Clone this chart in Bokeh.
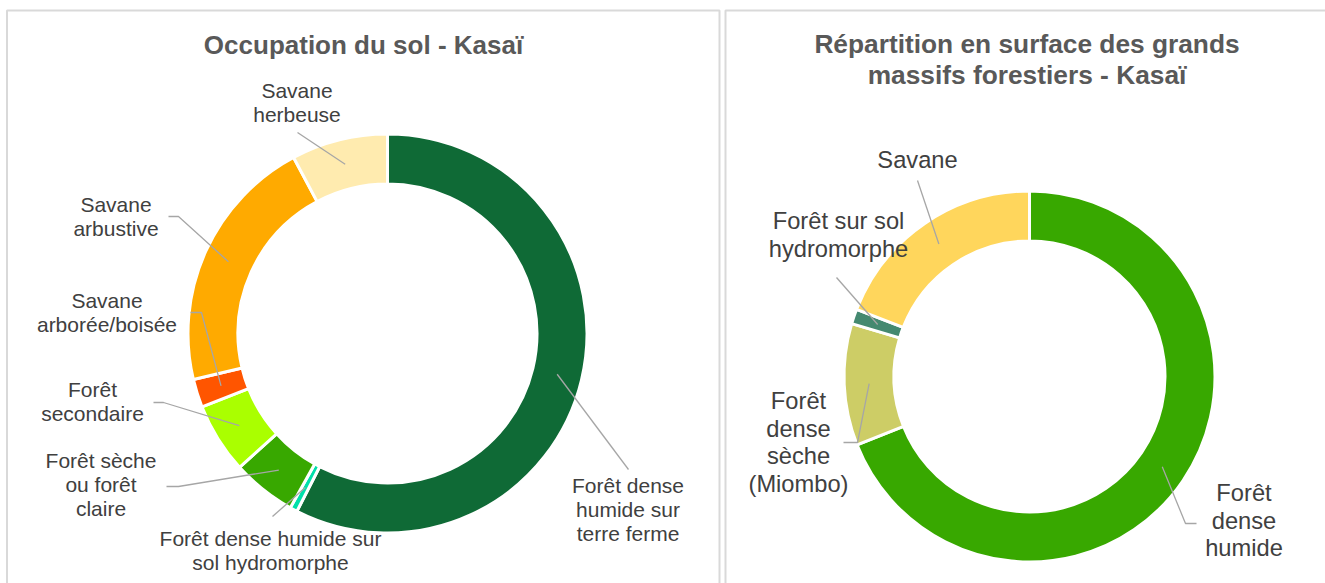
import numpy as np
from bokeh.plotting import figure
from bokeh.models import Range1d, ColumnDataSource
from bokeh.embed import file_html
from bokeh.resources import INLINE
from bokeh.core.properties import value

# ---------------- DATA ----------------
occ_title = "Occupation du sol - Kasaï"
occ_categories = [
    "Forêt dense humide sur terre ferme",
    "Forêt dense humide sur sol hydromorphe",
    "Forêt sèche ou forêt claire",
    "Forêt secondaire",
    "Savane arborée/boisée",
    "Savane arbustive",
    "Savane herbeuse",
]
occ_values = [57.5, 0.6, 5.2, 5.7, 2.3, 20.9, 7.8]
occ_colors = ["#0F6A36", "#00E0AA", "#38A800", "#AAFF00", "#FF5500", "#FFAA00", "#FFEBAF"]
occ_label_lines = [
    ["Forêt dense", "humide sur", "terre ferme"],
    ["Forêt dense humide sur", "sol hydromorphe"],
    ["Forêt sèche", "ou forêt", "claire"],
    ["Forêt", "secondaire"],
    ["Savane", "arborée/boisée"],
    ["Savane", "arbustive"],
    ["Savane", "herbeuse"],
]

mass_title_lines = ["Répartition en surface des grands", "massifs forestiers - Kasaï"]
mass_categories = ["Forêt dense humide", "Forêt dense sèche (Miombo)", "Forêt sur sol hydromorphe", "Savane"]
mass_values = [69.0, 10.6, 1.3, 19.1]
mass_colors = ["#38A800", "#CDCD66", "#448970", "#FFD65C"]
mass_label_lines = [
    ["Forêt", "dense", "humide"],
    ["Forêt", "dense", "sèche", "(Miombo)"],
    ["Forêt sur sol", "hydromorphe"],
    ["Savane"],
]

# ---------------- LAYOUT (screen pixels) ----------------
W, H = 1325, 583
BASE_SHIFT = 0.4  # empirical correction of the rendered baseline (em)


def Y(sy):
    # screen y -> data y (data y increases upward)
    return H - sy


def TY(sy, fs):
    # desired baseline in screen px -> data y for text glyph
    return Y(sy - BASE_SHIFT * fs)


occ_layout = dict(cx=387, cy=333, r_in=151, r_out=198, lh=24.4, fs=21,
                  labels=[(627.5, 493, [(628, 469)]),
                          (270, 546, [(272, 516)]),
                          (100.5, 468, [(166, 486), (178, 486)]),
                          (92, 397, [(153, 402), (163, 402)]),
                          (106.5, 308, [(190, 312), (201, 312)]),
                          (115.5, 212, [(168, 216), (178, 216)]),
                          (296.5, 98, [(297, 132)])])
mass_layout = dict(cx=1029, cy=376, r_in=137, r_out=184, lh=27.5, fs=23.7,
                   labels=[(1243.5, 502, [(1196, 523), (1185, 523)]),
                           (798, 410, [(843, 442), (857, 442)]),
                           (838, 230, [(836, 277)]),
                           (917, 169, [(917, 180)])])

FONT = "Liberation Sans"
LABEL_COLOR = "#404040"
TITLE_COLOR = "#595959"
LEADER_COLOR = "#A6A6A6"

p = figure(width=W, height=H, x_range=Range1d(0, W), y_range=Range1d(0, H),
           x_axis_type=None, y_axis_type=None, toolbar_location=None,
           output_backend="svg", min_border=0, outline_line_color=None)
p.grid.visible = False
p.background_fill_color = "white"
p.border_fill_color = "white"

# panel borders
p.quad(left=[6.5, 725], right=[719, 1345], top=[Y(10), Y(10)], bottom=[Y(620), Y(620)],
       fill_color=None, line_color="#D9D9D9", line_width=2)


def draw_donut(values, colors, label_lines, lay):
    vals = np.array(values, dtype=float)
    cum = np.concatenate([[0], np.cumsum(vals)]) / vals.sum() * 2 * np.pi  # clockwise from top
    n = len(vals)
    src = ColumnDataSource(dict(
        x=[lay["cx"]] * n, y=[Y(lay["cy"])] * n,
        start=list(np.pi / 2 - cum[1:]), end=list(np.pi / 2 - cum[:-1]),
        color=colors))
    lw = 3
    p.annular_wedge(x="x", y="y", inner_radius=lay["r_in"] - lw / 2, outer_radius=lay["r_out"] + lw / 2,
                    start_angle="start", end_angle="end", direction="anticlock",
                    fill_color="color", line_color="white", line_width=lw, source=src)
    mids = (cum[:-1] + cum[1:]) / 2
    rm = (lay["r_in"] + lay["r_out"]) / 2
    xs, ys = [], []
    tx, ty, tt = [], [], []
    fs = lay["fs"]
    for i, (lx, lb, pts) in enumerate(lay["labels"]):
        ex = lay["cx"] + rm * np.sin(mids[i])
        ey = lay["cy"] - rm * np.cos(mids[i])
        path = pts + [(ex, ey)]
        xs.append([q[0] for q in path])
        ys.append([Y(q[1]) for q in path])
        for j, line in enumerate(label_lines[i]):
            tx.append(lx)
            ty.append(TY(lb + j * lay["lh"], fs))
            tt.append(line)
    p.multi_line(xs=xs, ys=ys, line_color=LEADER_COLOR, line_width=1.3)
    p.text(x=tx, y=ty, text=tt, text_font=value(FONT), text_font_size=f"{fs}px",
           text_color=LABEL_COLOR, text_align="center", text_baseline="alphabetic")


draw_donut(occ_values, occ_colors, occ_label_lines, occ_layout)
draw_donut(mass_values, mass_colors, mass_label_lines, mass_layout)

# titles
p.text(x=[363], y=[TY(54.5, 26)], text=[occ_title], text_font=value(FONT), text_font_size="26px",
       text_font_style="bold", text_color=TITLE_COLOR, text_align="center", text_baseline="alphabetic")
p.text(x=[1026.5, 1026.5], y=[TY(54.5, 26.3), TY(85.5, 26.3)], text=mass_title_lines, text_font=value(FONT),
       text_font_size="26.3px", text_font_style="bold", text_color=TITLE_COLOR,
       text_align="center", text_baseline="alphabetic")

open("out.html", "w").write(file_html(p, INLINE))
